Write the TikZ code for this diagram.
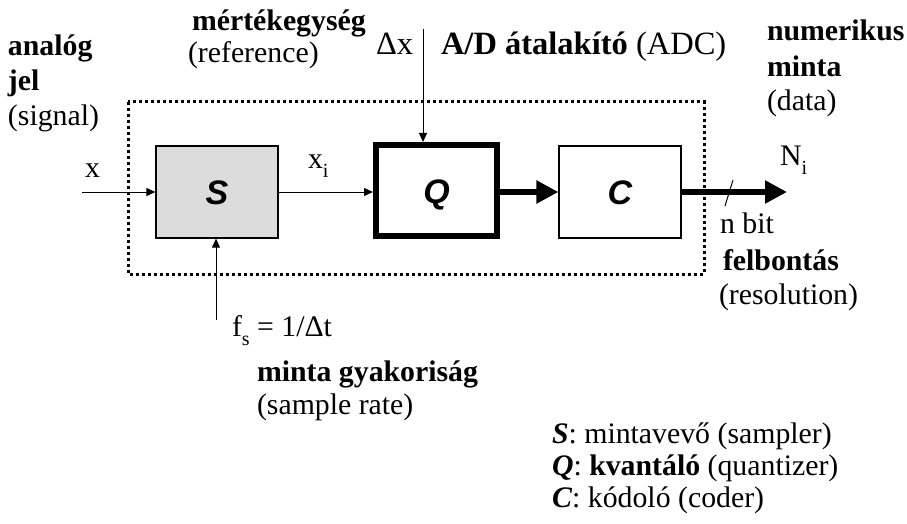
\documentclass[tikz,border=0pt]{standalone}
\usepackage{fontspec}
\setmainfont{Liberation Serif}
\newfontfamily\boxfont{Liberation Sans}
\usetikzlibrary{arrows.meta}

\definecolor{sfill}{RGB}{220,220,220}
\newcommand\lowsub[1]{\raisebox{-0.32em}{\fontsize{20}{20}\selectfont #1}}

\tikzset{
  txt/.style={anchor=base west, inner sep=0pt, outer sep=0pt, font=\fontsize{29.8}{34}\selectfont},
  btxt/.style={txt, font=\fontsize{29.8}{34}\selectfont\bfseries},
  bigtxt/.style={txt, font=\fontsize{32.5}{36}\selectfont},
  blockbox/.style={rectangle, draw, inner sep=0pt, minimum width=122pt, minimum height=92pt,
                   text height=25pt, text depth=0pt,
                   font=\boxfont\bfseries\itshape\fontsize{34}{38}\selectfont},
  thinarrow/.style={line width=1pt, -{Triangle[length=9pt,width=8pt]}},
  thickarrow/.style={line width=6pt, -{Triangle[length=22pt,width=22pt]}},
}

\begin{document}
\begin{tikzpicture}[x=1pt, y=-1pt]
  \useasboundingbox (0,0) rectangle (907,524);

  % the A/D converter boundary
  \draw[line width=3pt, dash pattern=on 3.2pt off 2.8pt] (128,102) rectangle (704,274);

  % processing blocks
  \node[blockbox, fill=sfill, line width=1.2pt] (S) at (217,192) {S};
  \node[blockbox, line width=6pt, minimum width=121pt, minimum height=91pt] (Q) at (436.5,190.5) {Q};
  \node[blockbox, line width=1.2pt] (C) at (620,192) {C};

  % free ends of the connectors
  \coordinate (xin) at (82,192);
  \coordinate (dxtop) at (423,29);
  \coordinate (fsbot) at (216,320);
  \coordinate (nout) at (787,192);

  % connectors
  \draw[thinarrow] (xin) -- (S.west);
  \draw[thinarrow] (S.east) -- (S.east -| Q.west);
  \draw[thinarrow] (dxtop) -- (dxtop |- Q.north);
  \draw[thinarrow] (fsbot) -- (fsbot |- S.south);
  \draw[thickarrow] (C.west -| Q.east) -- (C.west);
  \draw[thickarrow] (C.east) -- (nout);
  \draw[line width=1pt] (725,206) -- (733,180);

  % labels
  \node[btxt] (analog) at (8,56) {analóg};
  \node[btxt] (jel) at (8,91) {jel};
  \node[txt] (signal) at (8,126) {(signal)};

  \node[btxt] (mertek) at (192,31) {mértékegység};
  \node[txt] (refer) at (188,63) {(reference)};

  \node[bigtxt] (dxlab) at (376,55) {Δx};
  \node[bigtxt] (adc) at (441,55) {\textbf{A/D átalakító} (ADC)};

  \node[btxt] (numer) at (767,41) {numerikus};
  \node[btxt] (minta) at (767,77) {minta};
  \node[txt] (data) at (767,111) {(data)};

  \node[txt] (xlab) at (85,177) {x};
  \node[txt] (xilab) at (308,168) {x\lowsub{i}};
  \node[txt] (nilab) at (780,165) {N\lowsub{i}};
  \node[txt] (nbit) at (720,233) {n bit};
  \node[btxt] (felb) at (723,270) {felbontás};
  \node[txt] (resol) at (719,304) {(resolution)};

  \node[txt] (fslab) at (232,336) {f\lowsub{s} = 1/Δt};
  \node[btxt] (mgy) at (257,381) {minta gyakoriság};
  \node[txt] (srate) at (257,414) {(sample rate)};

  % legend
  \node[txt] (legS) at (552,443) {\textbf{\textit{S}}: mintavevő (sampler)};
  \node[txt] (legQ) at (552,475) {\textbf{\textit{Q}}: \textbf{kvantáló} (quantizer)};
  \node[txt] (legC) at (552,507) {\textbf{\textit{C}}: kódoló (coder)};
\end{tikzpicture}
\end{document}
